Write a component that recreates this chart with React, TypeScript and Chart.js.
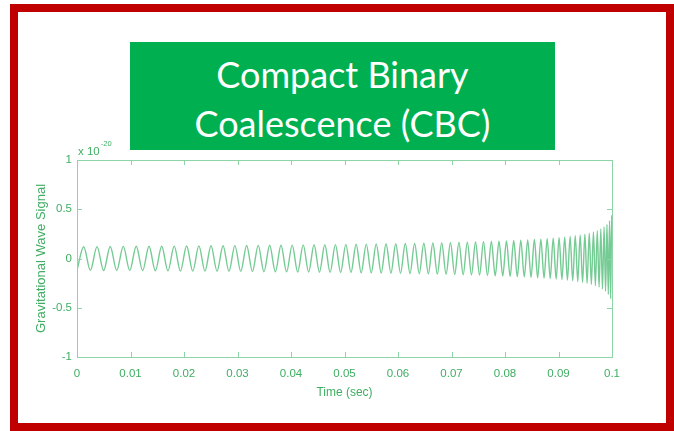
import { useEffect, useRef } from "react";
import { Chart, registerables } from "chart.js";

Chart.register(...registerables);

const titleLines = ["Compact Binary", "Coalescence (CBC)"];
const xAxisTitle = "Time (sec)";
const yAxisTitle = "Gravitational Wave Signal";
const yScaleBase = "x 10";
const yScaleExponent = "-20";

const timeTicks = [0, 0.01, 0.02, 0.03, 0.04, 0.05, 0.06, 0.07, 0.08, 0.09, 0.1];
const timeTickLabels = ["0", "0.01", "0.02", "0.03", "0.04", "0.05", "0.06", "0.07", "0.08", "0.09", "0.1"];
const signalTicks = [-1, -0.5, 0, 0.5, 1];
const signalTickLabels = ["-1", "-0.5", "0", "0.5", "1"];

// Times (ms) of successive troughs and crests of the inspiral chirp
const extremumTimesMs = [
  0, 1.25, 2.5, 3.74, 4.98, 6.21, 7.43, 8.65, 9.86, 11.07,
  12.27, 13.46, 14.65, 15.83, 17.0, 18.17, 19.33, 20.49, 21.64, 22.78,
  23.92, 25.05, 26.18, 27.3, 28.41, 29.51, 30.61, 31.71, 32.79, 33.87,
  34.95, 36.01, 37.08, 38.13, 39.18, 40.22, 41.25, 42.28, 43.3, 44.31,
  45.32, 46.32, 47.31, 48.3, 49.28, 50.25, 51.21, 52.17, 53.12, 54.07,
  55.0, 55.93, 56.86, 57.77, 58.68, 59.58, 60.47, 61.36, 62.24, 63.11,
  63.97, 64.83, 65.67, 66.52, 67.35, 68.17, 68.99, 69.8, 70.6, 71.39,
  72.18, 72.96, 73.73, 74.49, 75.24, 75.98, 76.72, 77.45, 78.17, 78.88,
  79.58, 80.27, 80.96, 81.63, 82.3, 82.95, 83.6, 84.24, 84.87, 85.49,
  86.1, 86.7, 87.3, 87.88, 88.45, 89.01, 89.56, 90.11, 90.64, 91.16,
  91.67, 92.17, 92.66, 93.13, 93.6, 94.05, 94.5, 94.93, 95.34, 95.75,
  96.14, 96.53, 96.89, 97.25, 97.59, 97.91, 98.22, 98.52, 98.8, 99.06,
  99.31, 99.54, 99.75, 99.94, 100.0,
];

// Strain at each trough / crest, in units of 1e-20
const extremumValues = [
  -0.12, 0.12, -0.121, 0.121, -0.122, 0.122, -0.122, 0.123, -0.123, 0.124,
  -0.124, 0.124, -0.125, 0.125, -0.126, 0.126, -0.127, 0.127, -0.128, 0.128,
  -0.128, 0.129, -0.129, 0.13, -0.13, 0.131, -0.131, 0.132, -0.132, 0.133,
  -0.134, 0.134, -0.135, 0.135, -0.136, 0.136, -0.137, 0.138, -0.138, 0.139,
  -0.139, 0.14, -0.141, 0.141, -0.142, 0.143, -0.143, 0.144, -0.145, 0.146,
  -0.146, 0.147, -0.148, 0.149, -0.149, 0.15, -0.151, 0.152, -0.153, 0.154,
  -0.155, 0.155, -0.156, 0.157, -0.158, 0.159, -0.16, 0.161, -0.162, 0.164,
  -0.165, 0.166, -0.167, 0.168, -0.169, 0.171, -0.172, 0.173, -0.175, 0.176,
  -0.178, 0.179, -0.181, 0.182, -0.184, 0.186, -0.187, 0.189, -0.191, 0.193,
  -0.195, 0.197, -0.199, 0.202, -0.204, 0.206, -0.209, 0.212, -0.214, 0.217,
  -0.22, 0.224, -0.227, 0.231, -0.234, 0.238, -0.243, 0.247, -0.252, 0.257,
  -0.263, 0.269, -0.276, 0.283, -0.291, 0.3, -0.309, 0.32, -0.333, 0.347,
  -0.364, 0.384, -0.408, 0.439, 0.2,
];

const LABEL_COLOR = "#3fae63";
const AXIS_COLOR = "#8ed4a6";
const SIGNAL_COLOR = "#74cb93";
const AXIS_FONT = "'Liberation Sans', Arial, sans-serif";
const TICK_LEN = 5;

const axesDecor = {
  id: "axesDecor",
  afterDraw(chart: any) {
    const { ctx, chartArea: a, scales } = chart;
    const xs = scales.x;
    const ys = scales.y;
    ctx.save();
    ctx.strokeStyle = AXIS_COLOR;
    ctx.lineWidth = 1;
    ctx.strokeRect(a.left + 0.5, a.top + 0.5, a.right - a.left, a.bottom - a.top);
    ctx.beginPath();
    timeTicks.forEach((v) => {
      const px = Math.round(xs.getPixelForValue(v)) + 0.5;
      ctx.moveTo(px, a.bottom);
      ctx.lineTo(px, a.bottom - TICK_LEN);
      ctx.moveTo(px, a.top);
      ctx.lineTo(px, a.top + TICK_LEN);
    });
    signalTicks.forEach((v) => {
      const py = Math.round(ys.getPixelForValue(v)) + 0.5;
      ctx.moveTo(a.left, py);
      ctx.lineTo(a.left + TICK_LEN, py);
      ctx.moveTo(a.right, py);
      ctx.lineTo(a.right - TICK_LEN, py);
    });
    ctx.stroke();

    ctx.fillStyle = LABEL_COLOR;
    ctx.textAlign = "center";
    ctx.textBaseline = "middle";
    ctx.font = `12px ${AXIS_FONT}`;
    ctx.fillText(xAxisTitle, (a.left + a.right) / 2, a.bottom + 36);

    ctx.save();
    ctx.translate(a.left - 36, (a.top + a.bottom) / 2);
    ctx.rotate(-Math.PI / 2);
    ctx.font = `13px ${AXIS_FONT}`;
    ctx.fillText(yAxisTitle, 0, 0);
    ctx.restore();

    ctx.textAlign = "left";
    ctx.textBaseline = "alphabetic";
    ctx.font = `11.5px ${AXIS_FONT}`;
    ctx.fillText(yScaleBase, a.left + 1, a.top - 5);
    const w = ctx.measureText(yScaleBase).width;
    ctx.font = `7.5px ${AXIS_FONT}`;
    ctx.fillText(yScaleExponent, a.left + 2 + w, a.top - 14);
    ctx.restore();
  },
};

function WaveChart() {
  const canvasRef = useRef<HTMLCanvasElement | null>(null);

  useEffect(() => {
    const canvas = canvasRef.current;
    if (!canvas) return;
    const points = extremumTimesMs.map((t, i) => ({ x: t / 1000, y: extremumValues[i] }));
    const chart = new Chart(canvas, {
      type: "line",
      data: {
        datasets: [
          {
            data: points,
            borderColor: SIGNAL_COLOR,
            borderWidth: 1.4,
            pointRadius: 0,
            fill: false,
            cubicInterpolationMode: "monotone",
          },
        ],
      },
      options: {
        animation: false,
        responsive: false,
        maintainAspectRatio: false,
        devicePixelRatio: 1,
        layout: { padding: { left: 0, top: 160, right: 62, bottom: 0 } },
        plugins: { legend: { display: false }, tooltip: { enabled: false } },
        scales: {
          x: {
            type: "linear",
            min: 0,
            max: 0.1,
            afterBuildTicks: (s: any) => {
              s.ticks = timeTicks.map((v) => ({ value: v }));
            },
            afterFit: (s: any) => {
              s.height = 74;
            },
            ticks: {
              autoSkip: false,
              maxRotation: 0,
              padding: 10,
              color: LABEL_COLOR,
              font: { family: AXIS_FONT, size: 11.5 },
              callback: (_v: any, i: number) => timeTickLabels[i],
            },
            grid: { display: false, drawTicks: false, tickLength: 0 },
            border: { display: false },
          },
          y: {
            type: "linear",
            min: -1,
            max: 1,
            afterBuildTicks: (s: any) => {
              s.ticks = signalTicks.map((v) => ({ value: v }));
            },
            afterFit: (s: any) => {
              s.width = 77;
            },
            ticks: {
              autoSkip: false,
              padding: 5,
              color: LABEL_COLOR,
              font: { family: AXIS_FONT, size: 11.5 },
              callback: (_v: any, i: number) => signalTickLabels[i],
            },
            grid: { display: false, drawTicks: false, tickLength: 0 },
            border: { display: false },
          },
        },
      },
      plugins: [axesDecor],
    });
    return () => chart.destroy();
  }, []);

  return (
    <canvas
      ref={canvasRef}
      width={674}
      height={431}
      style={{ position: "absolute", left: 0, top: 0, width: 674, height: 431 }}
    />
  );
}

export default function App() {
  return (
    <div
      style={{
        position: "fixed",
        left: 0,
        top: 0,
        width: 674,
        height: 431,
        background: "#ffffff",
        overflow: "hidden",
      }}
    >
      <div
        style={{
          position: "absolute",
          left: 10,
          top: 4,
          width: 664,
          height: 427,
          border: "8px solid #c00000",
          boxSizing: "border-box",
        }}
      />
      <div
        style={{
          position: "absolute",
          left: 130,
          top: 42,
          width: 425,
          height: 108,
          background: "#00b050",
        }}
      />
      <div
        style={{
          position: "absolute",
          left: 130,
          top: 50,
          width: 425,
          textAlign: "center",
          color: "#ffffff",
          fontFamily: "Lato, 'Open Sans', sans-serif",
          fontSize: 36,
          lineHeight: "49px",
          whiteSpace: "nowrap",
        }}
      >
        {titleLines.map((line) => (
          <div key={line}>{line}</div>
        ))}
      </div>
      <WaveChart />
    </div>
  );
}
